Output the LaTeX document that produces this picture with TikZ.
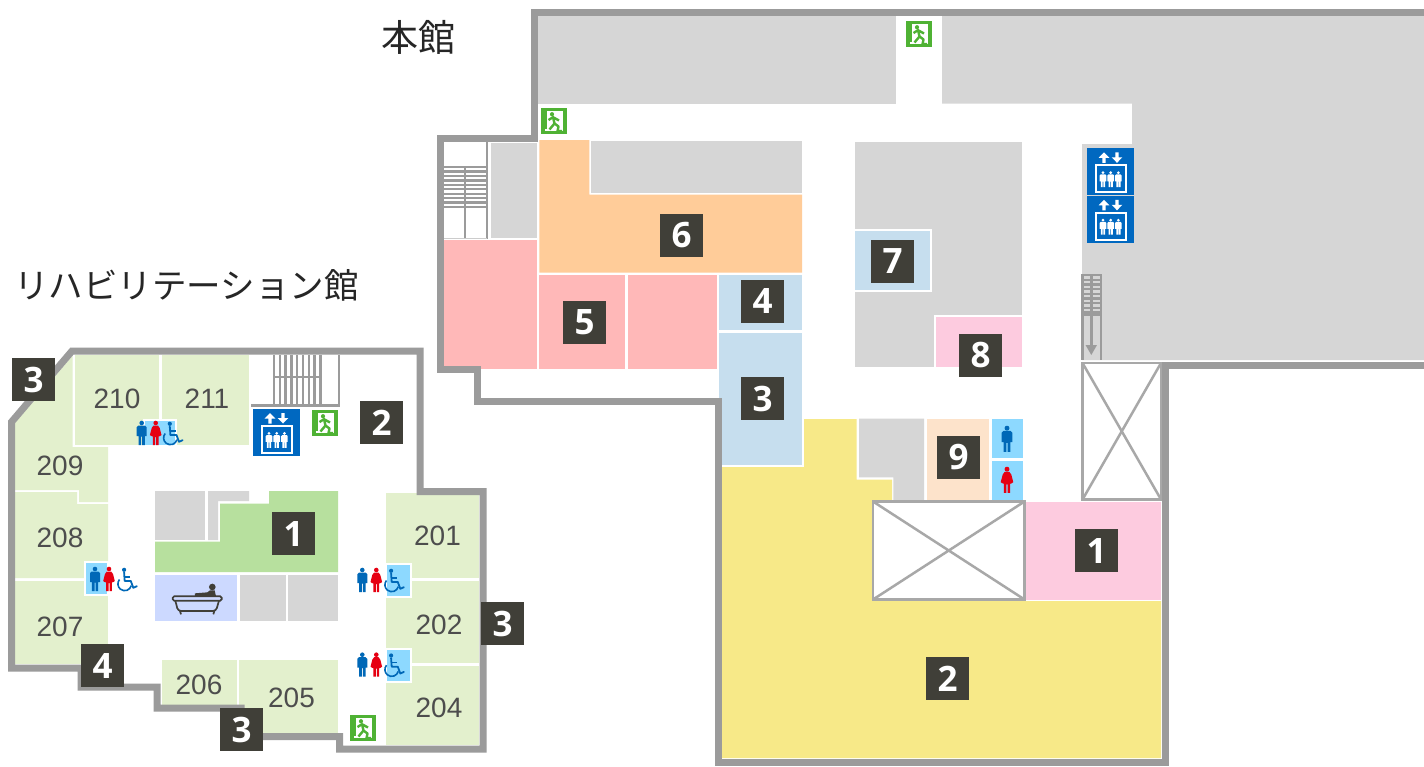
\documentclass[tikz,border=0pt]{standalone}
\usepackage{fontspec}
\setmainfont{Liberation Sans}
\newfontfamily\badgefont{Open Sans}
\newfontfamily\cjkfont{Noto Sans CJK JP}
\definecolor{wall}{HTML}{9B9B9B}
\definecolor{roomgreen}{HTML}{E3F0CD}
\definecolor{midgreen}{HTML}{B7E09E}
\definecolor{grayroom}{HTML}{D6D6D6}
\definecolor{pinkroom}{HTML}{FFB8B8}
\definecolor{orangeroom}{HTML}{FFCC99}
\definecolor{blueroom}{HTML}{C6DEEE}
\definecolor{rose}{HTML}{FDCBDF}
\definecolor{peach}{HTML}{FDE3CB}
\definecolor{yellowroom}{HTML}{F7E988}
\definecolor{bathblue}{HTML}{CCD9FF}
\definecolor{wcblue}{HTML}{8DD9FF}
\definecolor{manblue}{HTML}{0068B7}
\definecolor{womanred}{HTML}{E60012}
\definecolor{elevblue}{HTML}{0068C0}
\definecolor{exitgreen}{HTML}{4FB234}
\definecolor{badgedark}{HTML}{403F38}
\definecolor{numgray}{HTML}{4D4D4D}
\definecolor{voidline}{HTML}{A8A8A8}
\tikzset{
  wallline/.style={draw=wall,line width=7pt,miter limit=10},
  badge/.style={fill=badgedark,text=white,minimum size=43pt,inner sep=0pt,font=\badgefont\bfseries\fontsize{35}{35}\selectfont},
  roomnum/.style={text=numgray,inner sep=0pt,font=\fontsize{28}{30}\selectfont},
  title/.style={text=black!85,inner sep=0pt,anchor=west,font=\cjkfont\fontsize{#1}{40}\selectfont},
  voidbox/.style={draw=voidline,line width=2.5pt,fill=white},
  stairline/.style={draw=wall,line width=2.4pt},
  wcbox/.style={fill=wcblue,draw=white,line width=2pt}
}
\newcommand{\manicon}[4]{\begin{scope}[shift={(#1,#2)},scale=#3]
  \fill[#4] (0,-10) circle[radius=2.3pt];
  \fill[#4] (-5,-5.8)--(-3.3,-7.5)--(3.3,-7.5)--(5,-5.8)--(5,3)--(3.2,3)--(3.2,12)--(.5,12)--(.5,3.5)--(-.5,3.5)--(-.5,12)--(-3.2,12)--(-3.2,3)--(-5,3)--cycle;
\end{scope}}
\newcommand{\womanicon}[3]{\begin{scope}[shift={(#1,#2)},scale=#3]
  \fill[womanred] (0,-10) circle[radius=2.3pt];
  \fill[womanred] (-2.2,-7.5)--(2.2,-7.5)--(4,-5)--(5.8,2)--(4.4,3)--(2.9,3.5)--(2.9,12)--(.5,12)--(.5,4)--(-.5,4)--(-.5,12)--(-2.9,12)--(-2.9,3.5)--(-4.4,3)--(-5.8,2)--(-4,-5)--cycle;
\end{scope}}
\newcommand{\wheelicon}[2]{\begin{scope}[shift={(#1,#2)}]
  \fill[manblue] (-3.2,-9.2) circle[radius=2.1pt];
  \draw[manblue,line width=1.8pt,line join=round,line cap=round] (-3.2,-6.5)--(-2.6,2)--(3.5,2)--(6,8.8)--(9.6,7.2);
  \draw[manblue,line width=1.4pt] (-3,-2)--(3,-2);
  \draw[manblue,line width=1.6pt] (-7.8,0.5) arc[start angle=140,end angle=345,radius=6.8pt];
\end{scope}}
\newcommand{\exiticon}[2]{\begin{scope}[shift={(#1,#2)}]
  \fill[exitgreen] (0,0) rectangle (26,26);
  \fill[white] (6,2.8) rectangle (21.5,23.2);
  \fill[white] (3.5,20.5) rectangle (6,23.2);
  \fill[exitgreen] (11,6.2) circle[radius=2.1pt];
  \draw[exitgreen,line width=2.4pt,line join=round] (7.5,12)--(12,9.2)--(18,12.5) (12,9.2)--(13.5,15.5)--(8.5,21.5) (13.5,15.5)--(17.5,18.5)--(16.5,23)--(21,23);
\end{scope}}
\newcommand{\elevicon}[2]{\begin{scope}[shift={(#1,#2)}]
  \fill[elevblue] (0,0) rectangle (47,47);
  \fill[white] (17,4)--(22.3,9.5)--(18.7,9.5)--(18.7,14.5)--(15.3,14.5)--(15.3,9.5)--(11.7,9.5)--cycle;
  \fill[white] (30,14.5)--(35.3,9)--(31.7,9)--(31.7,4)--(28.3,4)--(28.3,9)--(24.7,9)--cycle;
  \draw[white,line width=1.7pt] (9,17) rectangle (39,44);
  \manicon{16}{31}{.66}{white}
  \manicon{23.7}{31}{.66}{white}
  \manicon{31.4}{31}{.66}{white}
\end{scope}}
\begin{document}
\begin{tikzpicture}[x=1pt,y=-1pt]
\useasboundingbox (0,0) rectangle (1424,766);
\fill[white] (0,0) rectangle (1424,766);
% ===== main building: grey rooms
\fill[grayroom] (537.7,15.7) rectangle (896,103.7);
\fill[grayroom] (942,15.7)--(1424,15.7)--(1424,360)--(1082,360)--(1082,144)--(1132,144)--(1132,103.7)--(942,103.7)--cycle;
\fill[grayroom] (490.7,142.7) rectangle (536.7,238);
\fill[grayroom] (591.3,140.7) rectangle (802,192.7);
\fill[grayroom] (855,142) rectangle (1022,367);
\fill[grayroom] (859,418.7)--(924,418.7)--(924,500)--(893.3,500)--(893.3,477.3)--(859,477.3)--cycle;
% coloured rooms
\fill[pinkroom] (444,240) rectangle (537,368.7);
\fill[pinkroom] (539.3,275) rectangle (625,368.7);
\fill[pinkroom] (627.7,275) rectangle (717,368.7);
\fill[orangeroom] (539.3,140)--(589.3,140)--(589.3,194.7)--(802,194.7)--(802,272.7)--(539.3,272.7)--cycle;
\fill[blueroom] (719.3,275) rectangle (802,330.3);
\fill[blueroom] (719.3,332.7) rectangle (802,465);
\filldraw[fill=blueroom,draw=white,line width=2pt] (854,230) rectangle (931,290.5);
\filldraw[fill=rose,draw=white,line width=2pt] (934.5,316) rectangle (1023,368);
\fill[white] (855,367) rectangle (1024,372);
\fill[yellowroom] (722,467)--(804,467)--(804,419)--(856.5,419)--(856.5,479.5)--(892,479.5)--(892,501)--(1000,501)--(1000,601)--(1161,601)--(1161,758)--(722,758)--cycle;
\fill[rose] (1000,502) rectangle (1161,600);
\fill[peach] (927,419) rectangle (989,500);
\fill[wcblue] (992,419) rectangle (1023,458);
\fill[wcblue] (992,461) rectangle (1023,500);
% voids
\draw[voidbox] (1082.5,363) rectangle (1161,499.5);
\draw[voidline,line width=2.5pt] (1082.5,363)--(1161,499.5) (1161,363)--(1082.5,499.5);
\draw[voidbox] (873,501.5) rectangle (1024.5,599.5);
\draw[voidline,line width=2.5pt] (873,501.5)--(1024.5,599.5) (1024.5,501.5)--(873,599.5);
% left stair of main building
\draw[stairline] (487,141)--(487,239);
\draw[draw=black!20,line width=1pt] (444,238.5)--(487,238.5);
\foreach \yy in {167,171.4,175.9,180.3,184.8,189.2,193.7,198.1,202.6,207}{\draw[stairline] (444,\yy)--(487,\yy);}
\draw[stairline] (465,166)--(465,238);
% small stair with arrow
\begin{scope}
\foreach \yy in {275,279.7,284.4,289,293.7,298.4,303,307.7,312.4,314.5}{\draw[stairline] (1082,\yy)--(1101,\yy);}
\draw[stairline] (1082.3,274)--(1082.3,360) (1100.7,274)--(1100.7,360) (1091.3,274)--(1091.3,346);
\fill[wall] (1085.5,345)--(1097,345)--(1091.3,355)--cycle;
\end{scope}
% ===== rehabilitation building rooms
\fill[roomgreen] (74.5,355) rectangle (159,445);
\fill[roomgreen] (161.5,355) rectangle (248.5,445);
\fill[roomgreen] (15,423)--(72.5,356)--(72.5,447)--(108,447)--(108,502)--(79,502)--(79,490)--(15,490)--cycle;
\fill[roomgreen] (15,492)--(77,492)--(77,504)--(108,504)--(108,578)--(15,578)--cycle;
\fill[roomgreen] (15,580.5) rectangle (108,664);
\fill[roomgreen] (162,660) rectangle (237,705);
\fill[roomgreen] (239.3,660) rectangle (338,733);
\fill[roomgreen] (385.7,493) rectangle (479.3,578);
\fill[roomgreen] (385.7,580.7) rectangle (479.3,663);
\fill[roomgreen] (385.7,665.7) rectangle (479.3,745);
\fill[grayroom] (155,491) rectangle (205,540);
\fill[grayroom] (208,491)--(249,491)--(249,501)--(218,501)--(218,540)--(208,540)--cycle;
\fill[midgreen] (269,491)--(338,491)--(338,572)--(155,572)--(155,541.7)--(220,541.7)--(220,503.7)--(269,503.7)--cycle;
\fill[bathblue] (155,575) rectangle (237,621);
\fill[grayroom] (239.7,575) rectangle (286,621);
\fill[grayroom] (288.3,575) rectangle (338,621);
% wc backgrounds
\draw[wcbox] (144,420) rectangle (176,445.5);
\draw[wcbox] (84.5,562) rectangle (108,594.5);
\draw[wcbox] (386,564) rectangle (411,597);
\draw[wcbox] (386,649) rectangle (411,681.5);
% stair of rehabilitation building
\draw[stairline] (251,405.5)--(339,405.5)--(339,355);
\foreach \xx in {274,279.8,285.6,291.4,297.2,303,308.8,314.6,320.4}{\draw[stairline] (\xx,355)--(\xx,405);}
\draw[stairline] (273,376.7)--(322,376.7);
% ===== walls
\draw[wallline] (1424,12.3)--(534,12.3)--(534,138.7)--(440.7,138.7)--(440.7,369.7)--(477.7,369.7)--(477.7,401)--(718.3,401)--(718.3,762)--(1165,762)--(1165,365)--(1424,365);
\draw[wallline] (72,351)--(420,351)--(420,491.6)--(483,491.6)--(483,749)--(339.5,749)--(339.5,736.5)--(241,736.5)--(241,708)--(157,708)--(157,687)--(81,687)--(81,668)--(11.5,668)--(11.5,422)--cycle;
% ===== icons
\exiticon{906}{21}
\exiticon{541}{108}
\exiticon{312}{410}
\exiticon{350}{715}
\elevicon{1087}{148.3}
\elevicon{1087}{195.8}
\elevicon{253}{409}
% wc icons
\manicon{141.7}{433}{1}{manblue}\womanicon{155.7}{433}{1}\wheelicon{173}{433}
\manicon{95}{579}{1}{manblue}\womanicon{109}{579}{1}\wheelicon{127.3}{579}
\manicon{362.3}{580}{1}{manblue}\womanicon{376.3}{580}{1}\wheelicon{394.3}{580}
\manicon{362.3}{664.7}{1}{manblue}\womanicon{376.3}{664.7}{1}\wheelicon{394.3}{664.7}
\manicon{1007}{439}{1.08}{manblue}
\womanicon{1007}{480}{1.08}
% bath
\begin{scope}[shift={(150,485)},scale=.3333]
  \fill[badgedark] (187,306) circle[radius=10pt];
  \fill[badgedark] (135,325)--(172,322)--(180,316)--(194,316)--(198,334)--(135,334)--cycle;
  \draw[badgedark,line width=1.7pt,rounded corners=1.5pt] (68,334) rectangle (215,347);
  \draw[badgedark,line width=1.7pt,rounded corners=3pt] (76,347)--(84,378)--(198,378)--(207,347);
  \draw[badgedark,line width=1.7pt] (90,378)--(93,388) (193,378)--(190,388);
\end{scope}
% ===== room numbers
\node[roomnum] (r210) at (117,399) {210};
\node[roomnum] (r211) at (207,399) {211};
\node[roomnum] (r209) at (60,466) {209};
\node[roomnum] (r208) at (60,538) {208};
\node[roomnum] (r207) at (60,627) {207};
\node[roomnum] (r206) at (199,685) {206};
\node[roomnum] (r205) at (291.5,698) {205};
\node[roomnum] (r201) at (437.5,536) {201};
\node[roomnum] (r202) at (439,625) {202};
\node[roomnum] (r204) at (439,708) {204};
% ===== badges
\node[badge] (ba3) at (33.5,379.5) {3};
\node[badge] (ba2) at (381.5,422.5) {2};
\node[badge] (ba1) at (293.5,533.5) {1};
\node[badge] (ba4) at (102.5,665.5) {4};
\node[badge] (bb3) at (241.5,729.5) {3};
\node[badge] (bc3) at (502.5,623.5) {3};
\node[badge] (m6) at (681.5,235.5) {6};
\node[badge] (m4) at (762.5,301.5) {4};
\node[badge] (m5) at (584.5,322.5) {5};
\node[badge] (m3) at (762.5,398.5) {3};
\node[badge] (m7) at (892.5,261.5) {7};
\node[badge] (m8) at (980.5,355.5) {8};
\node[badge] (m9) at (958.5,457.5) {9};
\node[badge] (m1) at (1096.5,550.5) {1};
\node[badge] (m2) at (947.5,678.5) {2};
% ===== titles
\node[title=37] (t1) at (381,37) {本館};
\node[title=34.5] (t2) at (14,285) {リハビリテーション館};
\end{tikzpicture}
\end{document}
